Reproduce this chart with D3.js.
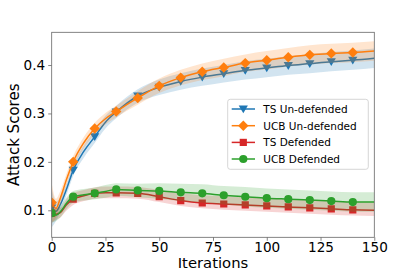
<!DOCTYPE html>
<html><head><meta charset="utf-8">
<script src="https://cdn.jsdelivr.net/npm/d3@7"></script>
<style>body{margin:0;background:#fff}svg{display:block;font-family:"DejaVu Sans",sans-serif}</style>
</head><body><svg id="c" width="416" height="271"></svg>
<script>
const iterations = [0, 2, 4, 7, 10, 15, 20, 25, 30, 40, 50, 60, 70, 80, 90, 100, 110, 120, 130, 140, 150];

const tsUndefMean  = [0.105, 0.098, 0.112, 0.145, 0.183, 0.222, 0.252, 0.282, 0.303, 0.336, 0.354, 0.366, 0.375, 0.382, 0.389, 0.394, 0.399, 0.403, 0.407, 0.410, 0.414];
const tsUndefLow   = [0.065, 0.078, 0.097, 0.133, 0.171, 0.209, 0.239, 0.269, 0.290, 0.322, 0.338, 0.349, 0.357, 0.364, 0.370, 0.375, 0.380, 0.383, 0.387, 0.390, 0.394];
const tsUndefHigh  = [0.145, 0.118, 0.127, 0.157, 0.195, 0.235, 0.265, 0.295, 0.316, 0.350, 0.370, 0.383, 0.393, 0.400, 0.408, 0.413, 0.418, 0.423, 0.427, 0.430, 0.434];

const ucbUndefMean = [0.116, 0.104, 0.125, 0.165, 0.200, 0.240, 0.269, 0.289, 0.304, 0.332, 0.357, 0.374, 0.386, 0.395, 0.404, 0.410, 0.416, 0.421, 0.424, 0.426, 0.429];
const ucbUndefLow  = [0.076, 0.084, 0.110, 0.153, 0.188, 0.228, 0.257, 0.277, 0.292, 0.318, 0.342, 0.358, 0.369, 0.377, 0.386, 0.391, 0.397, 0.401, 0.404, 0.406, 0.409];
const ucbUndefHigh = [0.156, 0.124, 0.140, 0.177, 0.212, 0.252, 0.281, 0.301, 0.316, 0.346, 0.372, 0.390, 0.403, 0.413, 0.422, 0.429, 0.435, 0.441, 0.444, 0.446, 0.449];

const tsDefMean    = [0.094, 0.092, 0.095, 0.112, 0.123, 0.130, 0.135, 0.136, 0.136, 0.135, 0.128, 0.120, 0.115, 0.113, 0.111, 0.109, 0.107, 0.105, 0.103, 0.101, 0.100];
const tsDefLow     = [0.074, 0.080, 0.085, 0.100, 0.111, 0.119, 0.124, 0.125, 0.125, 0.124, 0.117, 0.109, 0.104, 0.101, 0.099, 0.097, 0.095, 0.093, 0.091, 0.089, 0.088];
const tsDefHigh    = [0.124, 0.104, 0.105, 0.124, 0.135, 0.142, 0.147, 0.149, 0.149, 0.148, 0.142, 0.135, 0.131, 0.129, 0.127, 0.125, 0.123, 0.121, 0.119, 0.117, 0.116];

const ucbDefMean   = [0.094, 0.090, 0.097, 0.115, 0.128, 0.132, 0.135, 0.139, 0.143, 0.141, 0.140, 0.137, 0.135, 0.131, 0.128, 0.125, 0.123, 0.121, 0.119, 0.117, 0.117];
const ucbDefLow    = [0.074, 0.078, 0.085, 0.103, 0.116, 0.120, 0.123, 0.126, 0.130, 0.127, 0.124, 0.119, 0.116, 0.112, 0.108, 0.105, 0.103, 0.101, 0.099, 0.097, 0.097];
const ucbDefHigh   = [0.114, 0.102, 0.109, 0.127, 0.140, 0.144, 0.147, 0.152, 0.156, 0.155, 0.156, 0.155, 0.154, 0.150, 0.148, 0.145, 0.143, 0.141, 0.139, 0.137, 0.137];

const seriesNames = ["TS Un-defended", "UCB Un-defended", "TS Defended", "UCB Defended"];
const xTicks = [0, 25, 50, 75, 100, 125, 150];
const yTicks = [0.1, 0.2, 0.3, 0.4];
const markerIterations = [0, 10, 20, 30, 40, 50, 60, 70, 80, 90, 100, 110, 120, 130, 140];

const series = [
  {name: seriesNames[0], mean: tsUndefMean, low: tsUndefLow, high: tsUndefHigh, color: "#1f77b4", marker: "tri"},
  {name: seriesNames[1], mean: ucbUndefMean, low: ucbUndefLow, high: ucbUndefHigh, color: "#ff7f0e", marker: "diamond"},
  {name: seriesNames[2], mean: tsDefMean, low: tsDefLow, high: tsDefHigh, color: "#d62728", marker: "square"},
  {name: seriesNames[3], mean: ucbDefMean, low: ucbDefLow, high: ucbDefHigh, color: "#2ca02c", marker: "circle"}
];

const svg = d3.select("#c");
const L = 51.7, R = 374.3, T = 32.3, B = 237.3;
const x = d3.scaleLinear().domain([0, 150]).range([L, R]);
const y = d3.scaleLinear().domain([0.0442, 0.4676]).range([B, T]);

svg.append("defs").append("clipPath").attr("id", "clip")
  .append("rect").attr("x", L).attr("y", T).attr("width", R - L).attr("height", B - T);

const plot = svg.append("g").attr("clip-path", "url(#clip)");

function markerPath(type, cx, cy) {
  if (type === "tri") {
    const s = 4.6;
    return `M${cx - s},${cy - s * 0.75}L${cx + s},${cy - s * 0.75}L${cx},${cy + s * 0.95}Z`;
  }
  if (type === "diamond") {
    const s = 5.2;
    return `M${cx},${cy - s}L${cx + s},${cy}L${cx},${cy + s}L${cx - s},${cy}Z`;
  }
  if (type === "square") {
    const s = 3.6;
    return `M${cx - s},${cy - s}h${2 * s}v${2 * s}h${-2 * s}Z`;
  }
  const r = 4.1;
  return `M${cx - r},${cy}a${r},${r} 0 1,0 ${2 * r},0a${r},${r} 0 1,0 ${-2 * r},0Z`;
}

series.forEach(s => {
  const pts = iterations.map((it, i) => ({it, m: s.mean[i], lo: s.low[i], hi: s.high[i]}));
  const line = d3.line().x(d => x(d.it)).y(d => y(d.m)).curve(d3.curveMonotoneX);
  plot.append("path").attr("d", line(pts)).attr("fill", "none")
    .attr("stroke", s.color).attr("stroke-width", 1.5);
  pts.filter(d => markerIterations.includes(d.it)).forEach(d => {
    plot.append("path").attr("d", markerPath(s.marker, x(d.it), y(d.m))).attr("fill", s.color);
  });
  const area = d3.area().x(d => x(d.it)).y0(d => y(d.lo)).y1(d => y(d.hi)).curve(d3.curveMonotoneX);
  plot.append("path").attr("d", area(pts)).attr("fill", s.color).attr("fill-opacity", 0.2);
});

// axes
const xAxis = svg.append("g").attr("transform", `translate(0,${B})`)
  .call(d3.axisBottom(x).tickValues(xTicks).tickSize(3.5).tickPadding(2).tickFormat(d3.format("d")));
const yAxis = svg.append("g").attr("transform", `translate(${L},0)`)
  .call(d3.axisLeft(y).tickValues(yTicks).tickSize(3.5).tickPadding(3).tickFormat(d3.format(".1f")));
[xAxis, yAxis].forEach(a => {
  a.select(".domain").remove();
  a.selectAll(".tick line").attr("stroke", "#666").attr("stroke-width", 0.8);
  a.selectAll(".tick text").attr("fill", "#000").style("font-size", "13.6px").style("font-family", "DejaVu Sans");
});
svg.append("rect").attr("x", L).attr("y", T).attr("width", R - L).attr("height", B - T)
  .attr("fill", "none").attr("stroke", "#666").attr("stroke-width", 0.8);

svg.append("text").attr("x", (L + R) / 2).attr("y", 267.5).attr("text-anchor", "middle")
  .style("font-size", "14.8px").text("Iterations");
svg.append("text").attr("transform", `translate(19,${(T + B) / 2}) rotate(-90)`).attr("text-anchor", "middle")
  .style("font-size", "15px").text("Attack Scores");

// legend
const lg = svg.append("g");
lg.append("rect").attr("x", 227.7).attr("y", 99.3).attr("width", 140.6).attr("height", 70)
  .attr("rx", 2.5).attr("fill", "#fff").attr("fill-opacity", 0.8).attr("stroke", "#ccc").attr("stroke-width", 0.8);
const rowY = [109, 125.7, 142.4, 159];
series.forEach((s, i) => {
  const yy = rowY[i];
  lg.append("line").attr("x1", 231.7).attr("x2", 255).attr("y1", yy).attr("y2", yy)
    .attr("stroke", s.color).attr("stroke-width", 1.5);
  lg.append("path").attr("d", markerPath(s.marker, 243.3, yy)).attr("fill", s.color);
  lg.append("text").attr("x", 263.3).attr("y", yy + 3.8).style("font-size", "10.5px").text(s.name);
});
</script></body></html>
